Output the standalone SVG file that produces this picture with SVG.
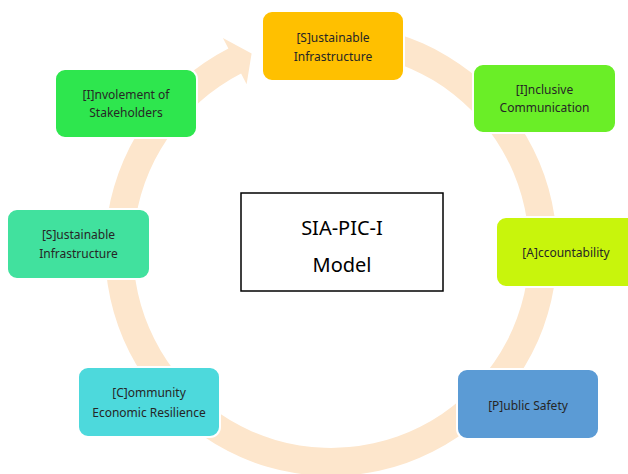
<svg xmlns="http://www.w3.org/2000/svg" width="628" height="474" viewBox="0 0 628 474">
<style>
.node{stroke:#ffffff;stroke-width:2}
.t{font-family:"Noto Sans","Open Sans",sans-serif;font-size:12px;fill:#262626;text-anchor:middle}
.c{font-family:"Noto Sans","Open Sans",sans-serif;font-size:20px;fill:#000000;text-anchor:middle}
</style>
<rect width="628" height="474" fill="#ffffff"/>
<g id="connectors">
<path d="M284.0,28.9 A226,226 0 1 1 228.4,48.6 L222.9,37.9 L251.6,53.4 L246.6,84.3 L241.1,73.6 A198,198 0 1 0 289.8,56.3 Z" fill="#FDE6CC"/>
</g>
<g id="center">
<rect x="241" y="193" width="202" height="98" fill="#ffffff" stroke="#000000" stroke-width="1.5"/>
<text class="c" x="342" y="235">SIA-PIC-I</text>
<text class="c" x="342" y="272">Model</text>
</g>
<g id="n1">
<rect class="node" x="262" y="11" width="142" height="70" rx="10" fill="#FFC000"/>
<text class="t" x="333" y="42">[S]ustainable</text>
<text class="t" x="333" y="61">Infrastructure</text>
</g>
<g id="n2">
<rect class="node" x="473" y="64" width="143" height="69" rx="10" fill="#6AEE27"/>
<text class="t" x="544.5" y="94">[I]nclusive</text>
<text class="t" x="544.5" y="112">Communication</text>
</g>
<g id="n3">
<rect class="node" x="496" y="217" width="142" height="70" rx="10" fill="#C8F50C"/>
<text class="t" x="566" y="257">[A]ccountability</text>
</g>
<g id="n4">
<rect class="node" x="457" y="369" width="142" height="70" rx="10" fill="#5B9BD5"/>
<text class="t" x="528" y="410">[P]ublic Safety</text>
</g>
<g id="n5">
<rect class="node" x="78" y="367" width="142" height="70" rx="10" fill="#4DD9DC"/>
<text class="t" x="149" y="397">[C]ommunity</text>
<text class="t" x="149" y="417">Economic Resilience</text>
</g>
<g id="n6">
<rect class="node" x="7" y="209" width="143" height="70" rx="10" fill="#41E19E"/>
<text class="t" x="78.5" y="239">[S]ustainable</text>
<text class="t" x="78.5" y="258">Infrastructure</text>
</g>
<g id="n7">
<rect class="node" x="55" y="69" width="142" height="69" rx="10" fill="#2EE64E"/>
<text class="t" x="126" y="99">[I]nvolement of</text>
<text class="t" x="126" y="117">Stakeholders</text>
</g>
</svg>
